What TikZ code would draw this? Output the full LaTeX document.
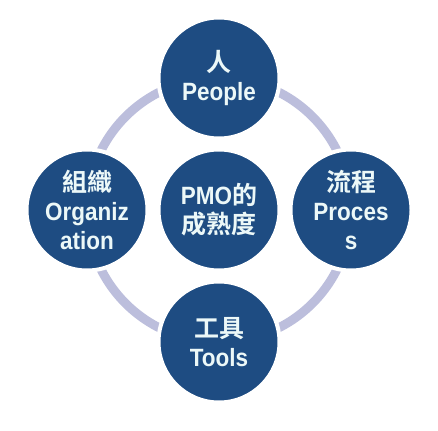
\documentclass[tikz,border=0pt]{standalone}
\usepackage{fontspec}
\setsansfont[FakeStretch=0.9]{Liberation Sans}
\newfontfamily\cjk[BoldFont={Noto Sans CJK TC Bold}]{Noto Sans CJK TC}
\usepackage{xcolor}
\usetikzlibrary{backgrounds}
\definecolor{pmoblue}{RGB}{30,76,130}
\definecolor{ringgray}{RGB}{188,190,220}
\definecolor{textwhite}{RGB}{236,248,248}

\begin{document}
\begin{tikzpicture}[x=1pt,y=-1pt,node distance=132pt,
  main node/.style={circle,fill=pmoblue,draw=white,line width=4pt,minimum size=121pt,inner sep=0pt,
    align=center,text=textwhite,font=\sffamily\bfseries\fontsize{25}{29}\selectfont},
  ring/.style={draw=ringgray,line width=9pt}]

  \useasboundingbox (0,0) rectangle (438,430);
  \coordinate (o) at (219,210);

  \node[main node] (pmo) at (o) {PMO{\cjk 的}\\{\cjk 成熟度}};
  \node[main node] (people) [above of=o] {{\cjk 人}\\People};
  \node[main node] (org) [left of=o] {{\cjk 組織}\\Organiz\\ation};
  \node[main node] (process) [right of=o] {{\cjk 流程}\\Proces\\s};
  \node[main node] (tools) [below of=o] {{\cjk 工具}\\Tools};

  % ring behind the circles
  \begin{scope}[on background layer]
    \path (people.center) edge [ring,bend right=45] (org.center)
          (org.center) edge [ring,bend right=45] (tools.center)
          (tools.center) edge [ring,bend right=45] (process.center)
          (process.center) edge [ring,bend right=45] (people.center);
  \end{scope}
\end{tikzpicture}
\end{document}
